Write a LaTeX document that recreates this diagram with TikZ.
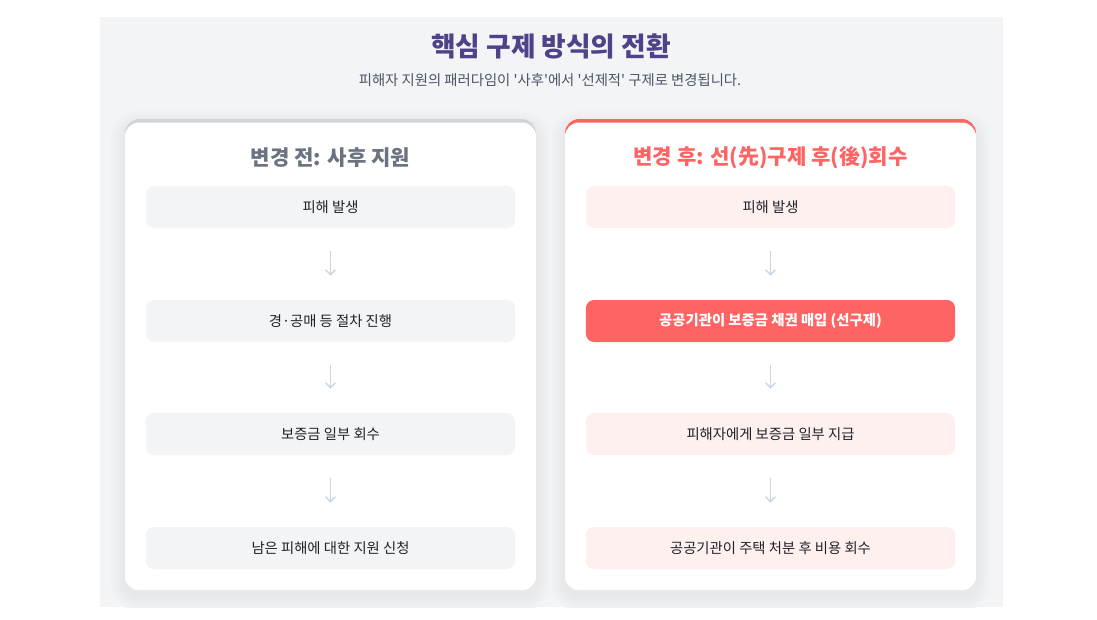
\documentclass[tikz,border=0pt]{standalone}
\usepackage{fontspec}
\setmainfont{Noto Sans CJK KR}
\usepackage{tikz}
\usetikzlibrary{arrows.meta}

\definecolor{pagegray}{HTML}{F3F4F6}
\definecolor{titlepurple}{HTML}{4E4289}
\definecolor{subgray}{HTML}{4B5563}
\definecolor{headgray}{HTML}{6B7280}
\definecolor{cardline}{HTML}{D1D5DB}
\definecolor{redmain}{HTML}{FF6464}
\definecolor{pinkbox}{HTML}{FFF0F0}
\definecolor{arrowgray}{HTML}{CBD5E1}
\definecolor{textdark}{HTML}{1F2328}

\tikzset{
  stepbox/.style={rounded corners=5.7pt, minimum width=9.225cm, minimum height=1.05cm,
    inner sep=0pt, font=\fontsize{10.2pt}{12pt}\selectfont, text=textdark},
  graybox/.style={stepbox, fill=pagegray},
  pinkstep/.style={stepbox, fill=pinkbox},
  redstep/.style={stepbox, fill=redmain, text=white, font=\fontsize{10.2pt}{12pt}\selectfont\bfseries},
  cardhead/.style={font=\fontsize{15pt}{18pt}\selectfont\bfseries},
  flowarrow/.style={draw=arrowgray, line width=1pt, -{Straight Barb[length=3.5pt,width=7pt]},
    shorten <=0.575cm, shorten >=0.6cm}
}

\begin{document}
\begin{tikzpicture}[x=0.025cm, y=-0.025cm]
\useasboundingbox (0,0) rectangle (1097,619);
\fill[pagegray] (100,17) rectangle (1003,607);
% titles
\node[font=\fontsize{19pt}{22pt}\selectfont\bfseries, text=titlepurple] (title) at (551,46) {핵심 구제 방식의 전환};
\node[font=\fontsize{10.2pt}{12pt}\selectfont, text=subgray] (subtitle) at (550,80)
  {피해자 지원의 패러다임이 \textquotesingle 사후\textquotesingle 에서 \textquotesingle 선제적\textquotesingle\ 구제로 변경됩니다.};
% cards
\begin{scope}
\clip (100,17) rectangle (1003,607);
\foreach \cx/\col in {125/cardline,565/redmain}{
  \foreach \s [evaluate=\s as \p using 5.2-0.4*\s] in {12,11,...,1}
    \fill[black!\p!pagegray, rounded corners=10pt+\s*0.8pt] (\cx-1.2*\s,119-1.2*\s+6) rectangle (\cx+411+1.2*\s,590+1.2*\s+6);
  \fill[white, rounded corners=10pt] (\cx,119) rectangle (\cx+411,590);
  \begin{scope}
    \clip[rounded corners=10pt] (\cx,119) rectangle (\cx+411,590);
    \fill[\col] (\cx,119) rectangle (\cx+411,140);
    \fill[white, rounded corners=10pt] (\cx,122.5) rectangle (\cx+411,600);
  \end{scope}
}
\end{scope}
\node[cardhead, text=headgray] (lefthead) at (330.5,158) {변경 전: 사후 지원};
\node[cardhead, text=redmain] (righthead) at (770.5,158) {변경 후: 선(先)구제 후(後)회수};
% before
\node[graybox] (l1) at (330.5,207) {피해 발생};
\node[graybox] (l2) at (330.5,321) {경·공매 등 절차 진행};
\node[graybox] (l3) at (330.5,434) {보증금 일부 회수};
\node[graybox] (l4) at (330.5,548) {남은 피해에 대한 지원 신청};
% after
\node[pinkstep] (r1) at (770.5,207) {피해 발생};
\node[redstep] (r2) at (770.5,321) {공공기관이 보증금 채권 매입 (선구제)};
\node[pinkstep] (r3) at (770.5,434) {피해자에게 보증금 일부 지급};
\node[pinkstep] (r4) at (770.5,548) {공공기관이 주택 처분 후 비용 회수};
\foreach \a/\b in {l1/l2,l2/l3,l3/l4,r1/r2,r2/r3,r3/r4}
  \draw[flowarrow] (\a) -- (\b);
\end{tikzpicture}
\end{document}
